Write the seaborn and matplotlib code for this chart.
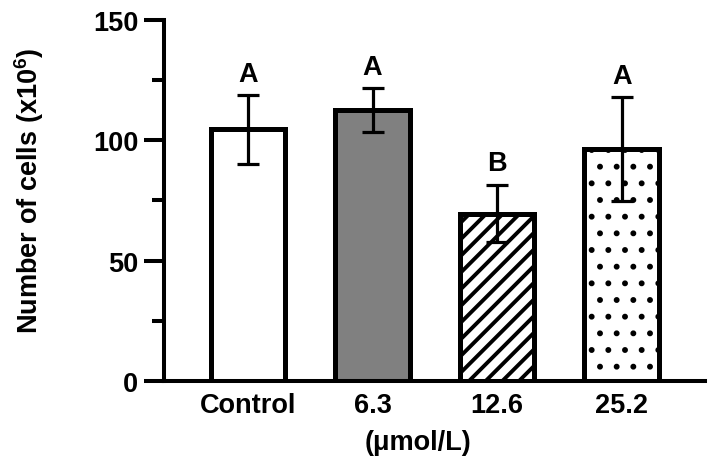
import numpy as np
import pandas as pd
import seaborn as sns
import matplotlib
matplotlib.use("Agg")
import matplotlib.pyplot as plt
from matplotlib.ticker import MultipleLocator

# ---- data ----
groups = ["Control", "6.3", "12.6", "25.2"]
means = [104.5, 112.5, 69.5, 96.3]
sd = [14.2, 9.2, 12.0, 21.6]
letters = ["A", "A", "B", "A"]
fills = ["#ffffff", "#808080", "#ffffff", "#ffffff"]
hatches = ["", "", "//", "."]
hatch_lw = [2.6, 2.6, 2.8, 1.8]
y_ticks = [0, 50, 100, 150]

sns.set_style("white")
plt.rcParams["font.family"] = ["Liberation Sans", "DejaVu Sans"]
plt.rcParams["font.weight"] = "bold"
plt.rcParams["mathtext.fontset"] = "custom"
plt.rcParams["mathtext.rm"] = "Liberation Sans:bold"
plt.rcParams["mathtext.default"] = "rm"
plt.rcParams["hatch.linewidth"] = 2.6
plt.rcParams["hatch.color"] = "black"
for k in ["text.color", "axes.labelcolor", "xtick.color", "ytick.color"]:
    plt.rcParams[k] = "black"

FS = 19.5

df = pd.DataFrame({"group": groups, "mean": means})

fig = plt.figure(figsize=(7.14, 4.64), dpi=100)
ax = fig.add_axes([0.2297, 0.177, 0.757, 0.778])

sns.barplot(data=df, x="group", y="mean", hue="group", order=groups,
            hue_order=groups, palette=fills, legend=False, width=0.6,
            edgecolor="black", linewidth=3.6, saturation=1, errorbar=None,
            ax=ax)

for patch, h, hlw in zip(ax.patches, hatches, hatch_lw):
    patch.set_hatch(h)
    patch.set_edgecolor("black")
    if hasattr(patch, "set_hatch_linewidth"):
        patch.set_hatch_linewidth(hlw)

xpos = np.arange(len(groups))
ax.errorbar(xpos, means, yerr=sd, fmt="none", ecolor="black",
            elinewidth=2.3, capsize=8, capthick=2.3, zorder=5)

for x, m, s, lab in zip(xpos, means, sd, letters):
    ax.annotate(lab, xy=(x, m + s), xytext=(0, 6), textcoords="offset points",
                ha="center", va="bottom", fontsize=FS, fontweight="bold")

ax.set_ylim(0, 150)
ax.set_xlim(-0.674, 3.665)
ax.set_yticks(y_ticks)
ax.yaxis.set_minor_locator(MultipleLocator(25))
ax.tick_params(axis="y", which="major", length=14.5, width=2.9,
               labelsize=FS, pad=4, left=True)
ax.tick_params(axis="y", which="minor", length=8.5, width=2.9, left=True)
ax.tick_params(axis="x", length=0, labelsize=FS, pad=8)
for lab in ax.get_xticklabels() + ax.get_yticklabels():
    lab.set_fontweight("bold")

for side in ["top", "right"]:
    ax.spines[side].set_visible(False)
for side in ["left", "bottom"]:
    ax.spines[side].set_linewidth(2.9)
    ax.spines[side].set_color("black")

ax.set_xlabel("(μmol/L)", fontsize=FS, fontweight="bold", labelpad=8)
ax.xaxis.label.set_x(0.47)
ax.set_ylabel(r"Number of cells (x10$^{6}$)", fontsize=FS,
              fontweight="bold", labelpad=34)
ax.yaxis.label.set_y(0.53)

fig.savefig("out.png", dpi=100)
